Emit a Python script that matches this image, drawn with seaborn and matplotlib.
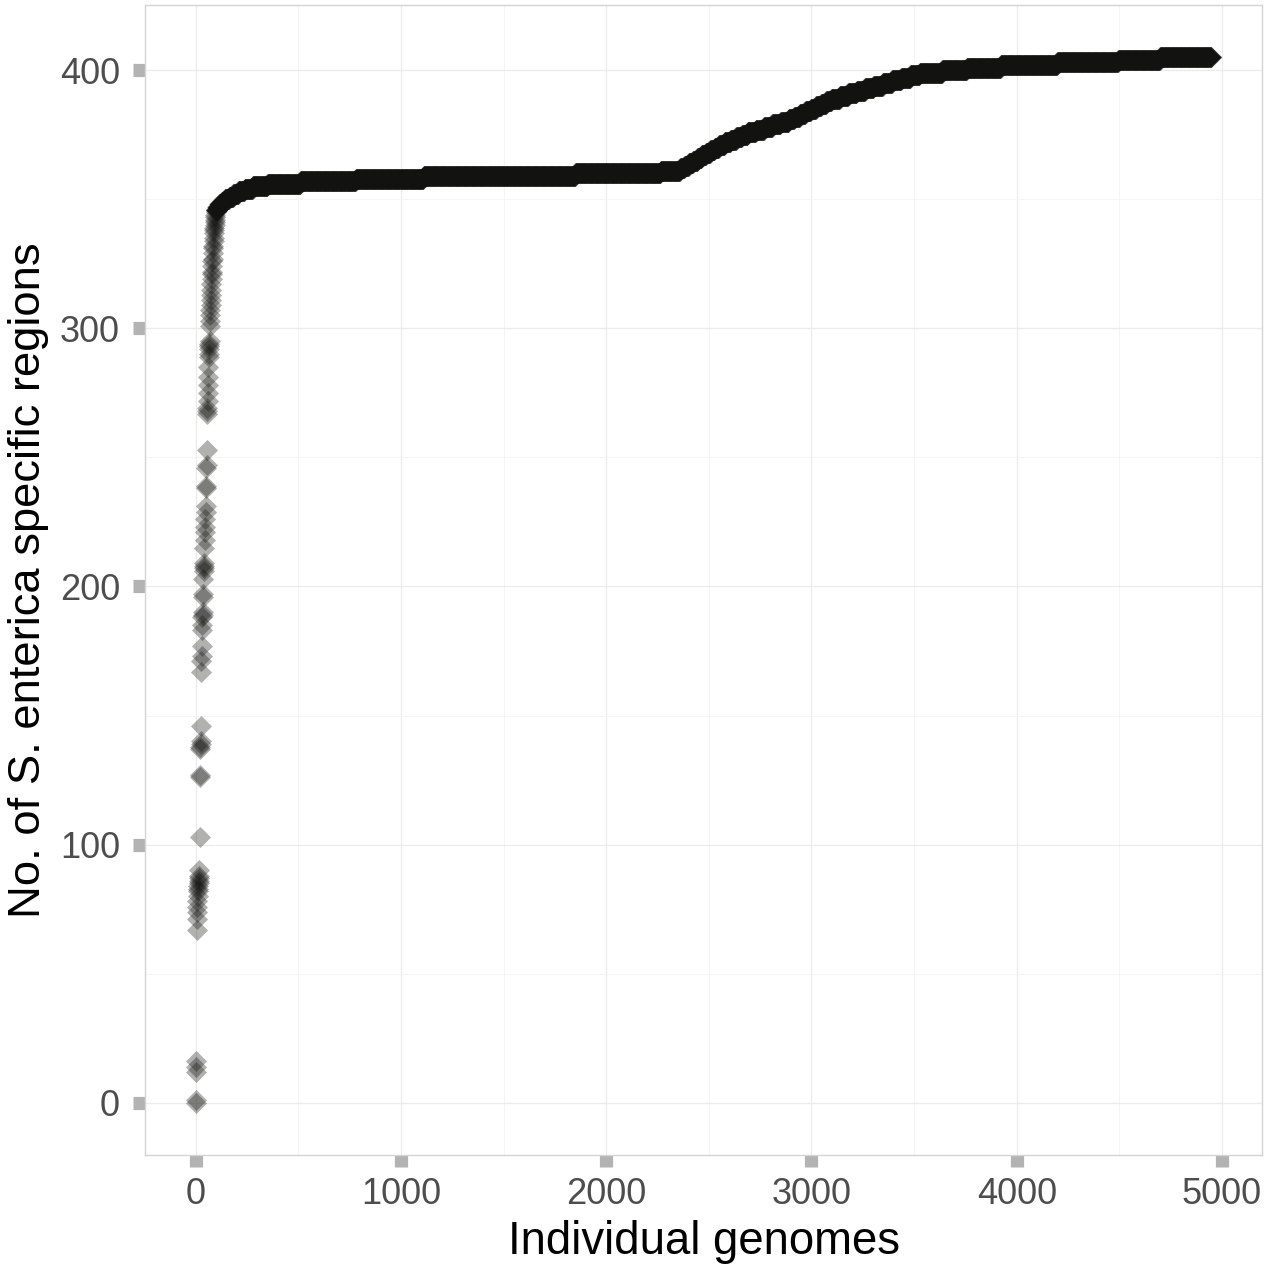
import matplotlib

matplotlib.use("Agg")

import matplotlib.pyplot as plt
import numpy as np
import pandas as pd
import seaborn as sns
from matplotlib.ticker import MultipleLocator


OUTPUT_FILE = "out.png"

early_values = [
    0, 1, 12, 14, 16, 67, 71, 74, 76, 78, 80, 82, 83, 84, 85, 86, 87, 88, 90,
    103, 126, 127, 137, 138, 139, 140, 146, 167, 171, 173, 177, 183, 185, 188,
    189, 190, 196, 197, 203, 206, 207, 208, 209, 215, 218, 221, 223, 226, 229,
    231, 238, 239, 246, 247, 253, 267, 268, 269, 272, 275, 278, 281, 285, 289,
    290, 292, 293, 294, 295, 301, 303, 305, 307, 309, 311, 313, 315, 317, 319,
    321, 322, 324, 326, 327, 329, 331, 332, 334, 335, 337, 338, 339, 340, 341,
    342, 343, 344, 345,
]

# rest of the curve as runs: value and number of genomes holding it
run_values = [
    346, 347, 348, 349, 350, 351, 352, 353, 354, 355, 356, 357, 358, 359, 360,
    361, 362, 363, 364, 365, 366, 367, 368, 369, 370, 371, 372, 373, 374, 375,
    376, 377, 378, 379, 380, 381, 382, 383, 384, 385, 386, 387, 388, 389, 390,
    391, 392, 393, 394, 395, 396, 397, 398, 399, 400, 401, 402, 403, 404, 405,
]
run_counts = [
    8, 10, 12, 15, 20, 20, 25, 30, 40, 72, 160, 270, 330, 740, 415,
    95, 21, 21, 21, 21, 21, 21, 21, 21, 21, 28, 28, 28, 28, 28,
    40, 40, 40, 40, 40, 27, 27, 27, 27, 25, 25, 25, 25, 41, 41,
    41, 41, 41, 45, 45, 45, 45, 45, 110, 120, 165, 275, 297, 204, 250,
]

x_ticks = [0, 1000, 2000, 3000, 4000, 5000]
y_ticks = [0, 100, 200, 300, 400]


def build_frame() -> pd.DataFrame:
    counts = np.concatenate([early_values, np.repeat(run_values, run_counts)])
    return pd.DataFrame({"genome": np.arange(len(counts)), "regions": counts})


def plot(df: pd.DataFrame) -> None:
    sns.set_style("white")
    plt.rcParams["font.family"] = ["Liberation Sans", "DejaVu Sans"]

    fig = plt.figure(figsize=(12.67, 12.77), dpi=100)
    ax = fig.add_axes([0.1144, 0.0955, 0.8817, 0.9006])

    sns.scatterplot(
        data=df,
        x="genome",
        y="regions",
        marker="D",
        s=115,
        color="#121210",
        alpha=0.33,
        linewidth=0,
        ax=ax,
    )

    ax.set_xlim(-247, 5195)
    ax.set_ylim(-20.25, 425.25)
    ax.set_xticks(x_ticks)
    ax.set_yticks(y_ticks)
    ax.xaxis.set_minor_locator(MultipleLocator(500))
    ax.yaxis.set_minor_locator(MultipleLocator(50))

    ax.grid(True, which="major", color="#ebebeb", linewidth=0.9)
    ax.grid(True, which="minor", color="#f4f4f4", linewidth=0.6)
    ax.set_axisbelow(True)

    for spine in ax.spines.values():
        spine.set_color("#d4d4d4")
        spine.set_linewidth(1.0)

    ax.tick_params(
        axis="both", which="major", bottom=True, left=True, direction="out",
        length=8.5, width=9.5, color="#b3b3b3",
        labelsize=26, labelcolor="#4d4d4d",
    )
    ax.tick_params(axis="x", which="major", pad=7)
    ax.tick_params(axis="y", which="major", pad=9.5)
    ax.tick_params(axis="both", which="minor", length=0)

    ax.set_xlabel("Individual genomes", fontsize=32.8, color="black", labelpad=6)
    ax.set_ylabel("No. of S. enterica specific regions", fontsize=32.7, color="black", labelpad=7.5)

    fig.savefig(OUTPUT_FILE, dpi=100)
    plt.close(fig)


def main() -> None:
    plot(build_frame())


if __name__ == "__main__":
    main()
